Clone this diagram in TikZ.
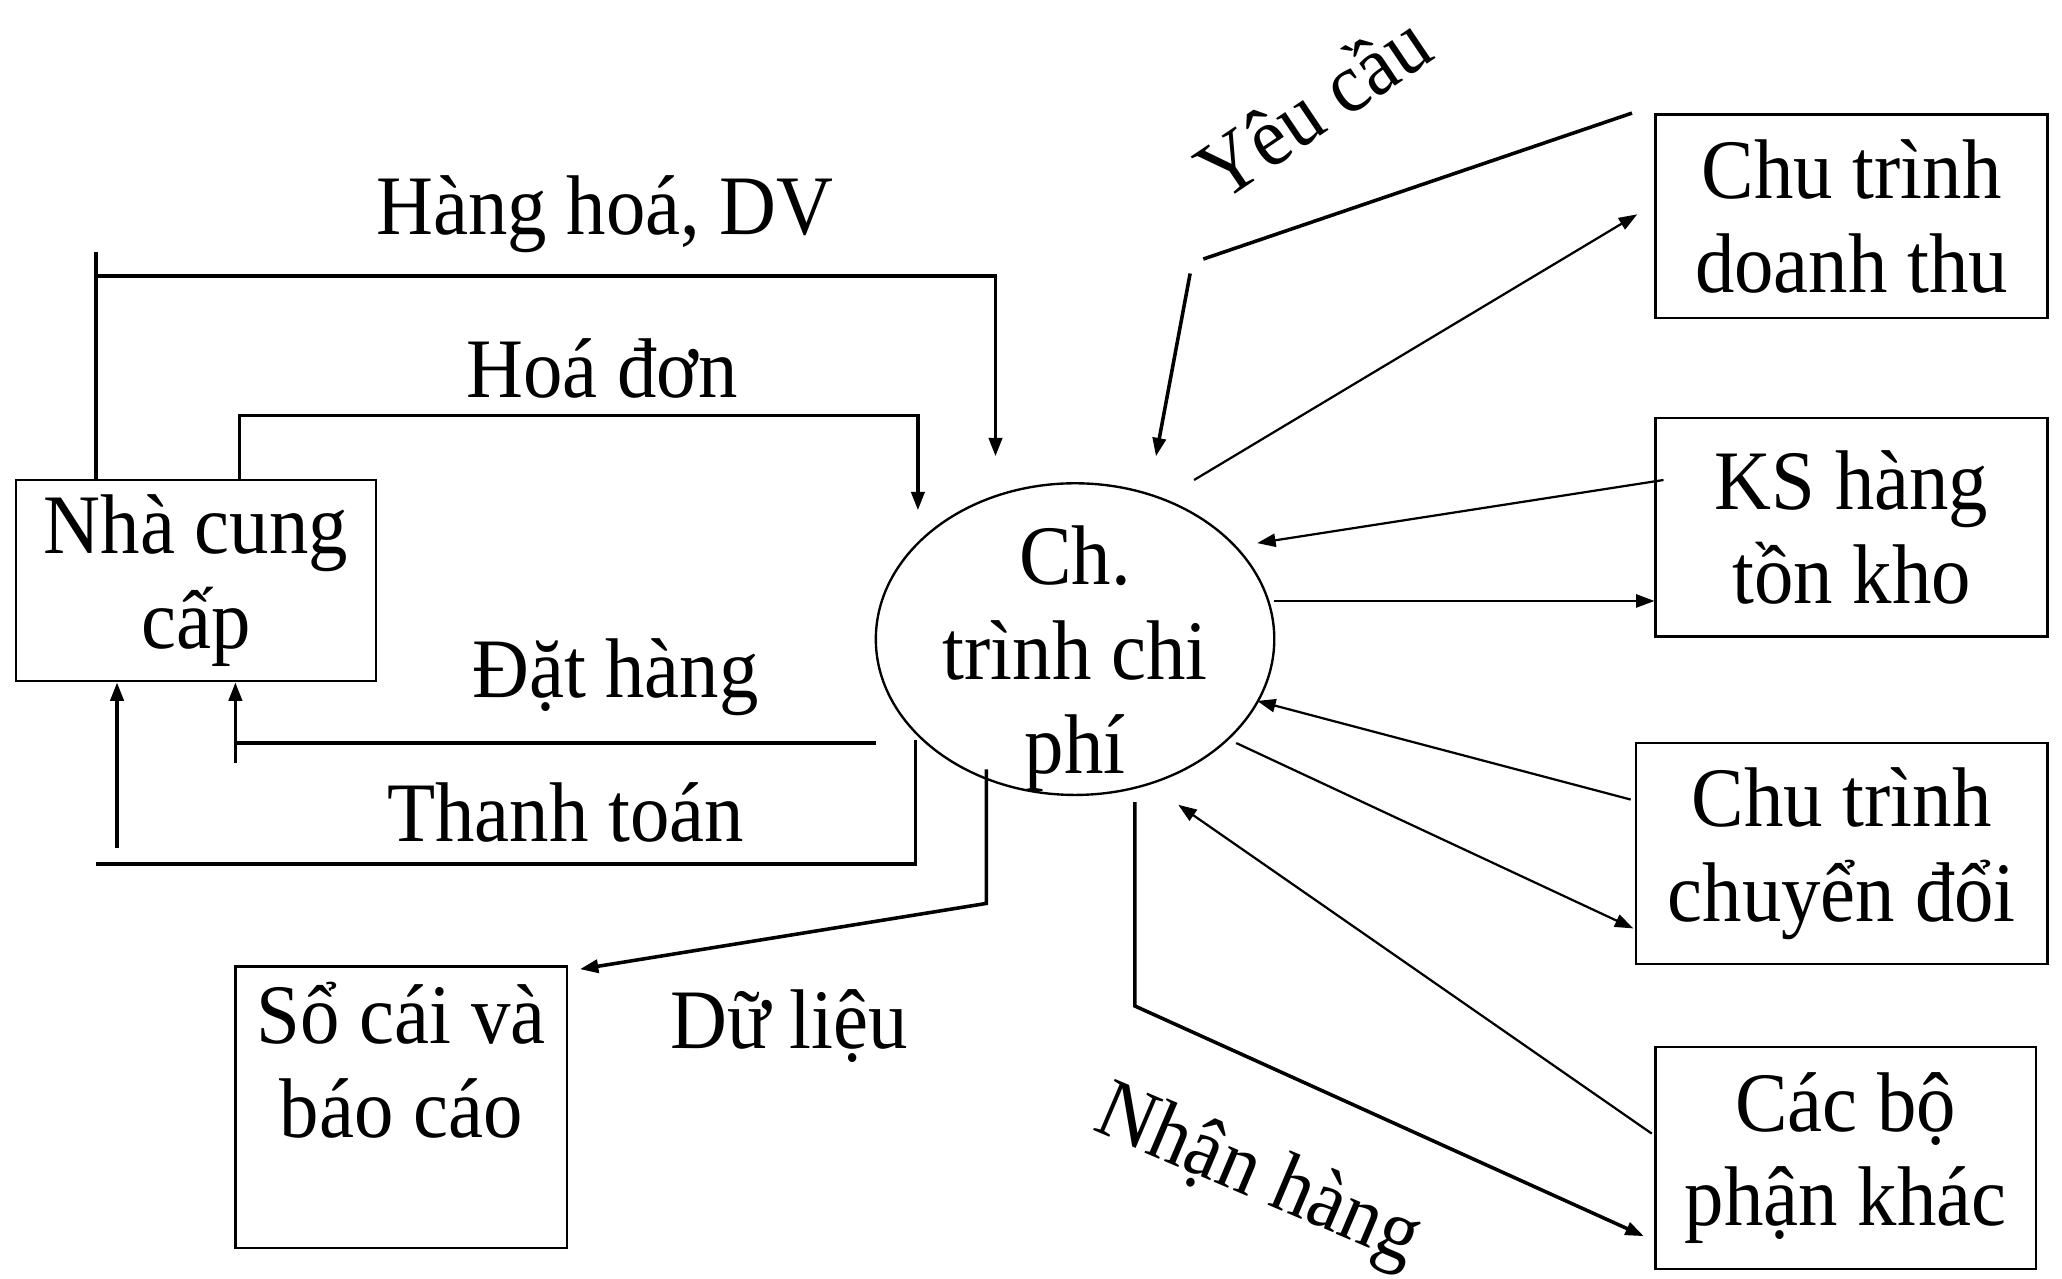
\documentclass[tikz,border=0pt]{standalone}
\usepackage{fontspec}
\setmainfont[FakeStretch=0.93]{Liberation Serif}
\usetikzlibrary{arrows.meta,shapes.geometric}
\begin{document}
\begin{tikzpicture}[x=0.5pt,y=-0.5pt,
  every node/.style={font=\fontsize{32.2}{36}\selectfont},
  box/.style={draw,line width=0.9pt,rectangle,align=center,inner sep=0pt},
  thk/.style={line width=1.35pt},
  thn/.style={line width=0.85pt},
  tip/.style={-{Triangle[length=7pt,width=5pt]}}]
\useasboundingbox (0,0) rectangle (1568,972);
% boxes
\node[box,minimum width=137pt,minimum height=76.5pt] (nha) at (149,441.5) {Nhà cung\\cấp};
\node[box,minimum width=149pt,minimum height=77.5pt] (dt) at (1408,164.5) {Chu trình\\doanh thu};
\node[box,minimum width=149pt,minimum height=83pt] (ks) at (1408,401) {KS hàng\\tồn kho};
\node[box,minimum width=156.5pt,minimum height=84pt] (cd) at (1400.5,649) {Chu trình\\chuyển đổi};
\node[box,minimum width=144.5pt,minimum height=84.5pt] (cb) at (1403.5,880.5) {Các bộ\\phận khác};
\node[box,minimum width=126pt,minimum height=107pt] (sc) at (305,842) {Sổ cái và\\báo cáo\\\mbox{}};
\node[draw,ellipse,line width=0.9pt,minimum width=151.5pt,minimum height=118.5pt,inner sep=0pt] (ell) at (817.5,486) {};
\node[align=center] (ellt) at (817.5,501) {Ch.\\trình chi\\phí};
% labels
\node (l1) at (460,163) {Hàng hoá, DV};
\node (l2) at (458,280) {Hoá đơn};
\node (l3) at (468,515) {Đặt hàng};
\node (l4) at (430,618) {Thanh toán};
\node (l5) at (600,780) {Dữ liệu};
\node[rotate=34] (l6) at (998,80) {Yêu cầu};
\node[rotate=-23] (l7) at (956,896) {Nhận hàng};
% coordinates
\coordinate (a1) at (73,192);
\coordinate (a2) at (73,210);
\coordinate (a3) at (757,210);
\coordinate (a4) at (757,347);
\coordinate (b1) at (182,316);
\coordinate (b2) at (698,316);
\coordinate (b3) at (698,388);
\coordinate (c1) at (666,565);
\coordinate (c2) at (179,565);
\coordinate (c3) at (179,580);
\coordinate (d1) at (696,563);
\coordinate (d2) at (696,657);
\coordinate (d3) at (73,657);
\coordinate (d4) at (89,645);
\coordinate (e1) at (750,585);
\coordinate (e2) at (750,687);
\coordinate (e3) at (441,737);
\coordinate (f1) at (1241,86);
\coordinate (f2) at (915,197);
\coordinate (f3) at (905,208);
\coordinate (f4) at (879,347);
\coordinate (g1) at (908,365);
\coordinate (g2) at (1245,163);
\coordinate (h1) at (1265,365);
\coordinate (h2) at (956,413);
\coordinate (i1) at (969,457);
\coordinate (j1) at (1240,608);
\coordinate (j2) at (956,533);
\coordinate (k1) at (940,565);
\coordinate (k2) at (1242,706);
\coordinate (m1) at (1256,862);
\coordinate (m2) at (896,612);
\coordinate (n1) at (863,610);
\coordinate (n2) at (863,765);
\coordinate (n3) at (1250,940);
% connectors
\draw[thk] (a1) -- (a1 |- nha.north);
\draw[thk,tip] (a2) -- (a3) -- (a4);
\draw[thk,tip] (b1 |- nha.north) -- (b1) -- (b2) -- (b3);
\draw[thk] (c1) -- (c2);
\draw[thk,tip] (c3) -- (c3 |- nha.south);
\draw[thk] (d1) -- (d2) -- (d3);
\draw[thk,tip] (d4) -- (d4 |- nha.south);
\draw[thk,tip] (e1) -- (e2) -- (e3);
\draw[thk] (f1) -- (f2);
\draw[thk,tip] (f3) -- (f4);
\draw[thn,tip] (g1) -- (g2);
\draw[thn,tip] (h1) -- (h2);
\draw[thn,tip] (i1) -- (i1 -| ks.west);
\draw[thn,tip] (j1) -- (j2);
\draw[thn,tip] (k1) -- (k2);
\draw[thn,tip] (m1) -- (m2);
\draw[thk,tip] (n1) -- (n2) -- (n3);
\end{tikzpicture}
\end{document}
